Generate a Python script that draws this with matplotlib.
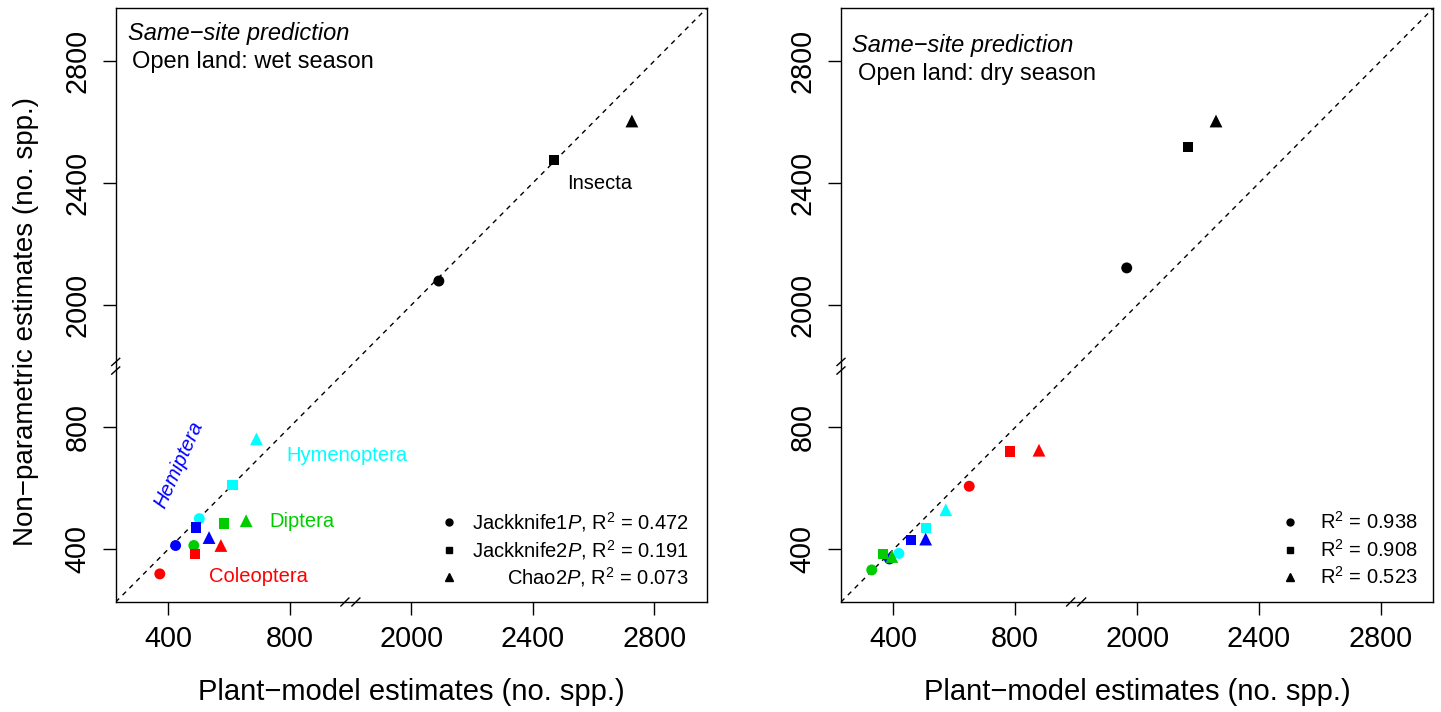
import numpy as np
import matplotlib
matplotlib.use("Agg")
import matplotlib.pyplot as plt

plt.rcParams['font.family'] = ['Liberation Sans', 'DejaVu Sans']
plt.rcParams['mathtext.fontset'] = 'custom'
plt.rcParams['mathtext.rm'] = 'Liberation Sans'
plt.rcParams['mathtext.it'] = 'Liberation Sans:italic'

# taxa order: Coleoptera, Diptera, Hemiptera, Hymenoptera, Insecta
taxa_colors = ['#FF0000', '#00CD00', '#0000FF', '#00FFFF', '#000000']

# wet season (plant-model x, non-parametric y)
wet_jk1_x = [373, 485, 425, 503, 2091]
wet_jk1_y = [320, 413, 413, 501, 2079]
wet_jk2_x = [488, 585, 491, 612, 2470]
wet_jk2_y = [385, 485, 472, 612, 2475]
wet_chao_x = [574, 657, 535, 691, 2726]
wet_chao_y = [413, 494, 439, 762, 2603]

# dry season
dry_jk1_x = [649, 329, 387, 418, 1966]
dry_jk1_y = [607, 333, 369, 387, 2122]
dry_jk2_x = [783, 367, 457, 507, 2167]
dry_jk2_y = [721, 385, 432, 470, 2518]
dry_chao_x = [878, 395, 506, 572, 2259]
dry_chao_y = [725, 377, 434, 530, 2603]

wet_r2 = ['0.472', '0.191', '0.073']
dry_r2 = ['0.938', '0.908', '0.523']
estimators = ['Jackknife1', 'Jackknife2', 'Chao2']

tick_values = [400, 800, 2000, 2400, 2800]
lims = (228, 2172)  # in gapped coordinates

GAP_FROM, GAP_TO = 1000, 1800


def gap(v):
    # squeeze out the 1000..1800 range like plotrix gap.plot
    v = np.asarray(v, dtype=float)
    return np.where(v > GAP_FROM, v - (GAP_TO - GAP_FROM), v)


def draw_breaks(ax):
    w, h = 591.0, 593.7
    c = (gap(GAP_FROM) - lims[0]) / (lims[1] - lims[0])
    for off in (-5.5, 5.5):
        cx = c + off / w
        ax.plot([cx - 4 / w, cx + 4 / w], [-4 / h, 4 / h], color='black',
                lw=1.0, transform=ax.transAxes, clip_on=False)
    for off in (-4.3, 4.3):
        cy = c + off / h
        ax.plot([-4 / w, 4 / w], [cy - 3.6 / h, cy + 3.6 / h], color='black',
                lw=1.0, transform=ax.transAxes, clip_on=False)


def setup_axes(ax):
    ax.set_xlim(lims)
    ax.set_ylim(lims)
    ax.plot(lims, lims, ls=(0, (3.5, 3.5)), color='black', lw=1.0, zorder=1)
    ax.set_xticks(gap(tick_values))
    ax.set_xticklabels([str(t) for t in tick_values])
    ax.set_yticks(gap(tick_values))
    ax.set_yticklabels([str(t) for t in tick_values], rotation=90, va='center')
    ax.tick_params(axis='both', length=9.4, width=1.0, labelsize=20.7)
    ax.tick_params(axis='x', pad=7)
    ax.tick_params(axis='y', pad=8)
    for sp in ax.spines.values():
        sp.set_linewidth(1.0)
    draw_breaks(ax)


def draw_points(ax, jk1x, jk1y, jk2x, jk2y, chx, chy):
    ax.scatter(gap(jk1x), gap(jk1y), c=taxa_colors, marker='o', s=62,
               linewidths=0, zorder=3)
    ax.scatter(gap(jk2x), gap(jk2y), c=taxa_colors, marker='s', s=55,
               linewidths=0, zorder=3)
    ax.scatter(gap(chx), gap(chy), c=taxa_colors, marker='^', s=85,
               linewidths=0, zorder=3)


fig = plt.figure(figsize=(14.41, 7.12), dpi=100)
ax1 = fig.add_axes([0.0803, 0.1545, 0.4101, 0.8338])
ax2 = fig.add_axes([0.5836, 0.1545, 0.4110, 0.8338])

# left panel: wet season
setup_axes(ax1)
draw_points(ax1, wet_jk1_x, wet_jk1_y, wet_jk2_x, wet_jk2_y,
            wet_chao_x, wet_chao_y)
ax1.text(0.021, 0.958, 'Same\u2212site prediction', style='italic',
         fontsize=17, transform=ax1.transAxes, va='center', ha='left')
ax1.text(0.028, 0.910, 'Open land: wet season', fontsize=17,
         transform=ax1.transAxes, va='center', ha='left')
ax1.text(gap(2620), gap(2400), 'Insecta', fontsize=14.5, ha='center', va='center')
ax1.text(989, 709, 'Hymenoptera', color='#00FFFF', fontsize=14.5,
         ha='center', va='center')
ax1.text(841, 490, 'Diptera', color='#00CD00', fontsize=14.5,
         ha='center', va='center')
ax1.text(696, 313, 'Coleoptera', color='#FF0000', fontsize=14.5,
         ha='center', va='center')
ax1.text(436, 677, 'Hemiptera', color='#0000FF', fontsize=14.5, style='italic',
         ha='center', va='center', rotation=65.7, rotation_mode='anchor')

rows = [0.1347, 0.0876, 0.042]
marks = ['o', 's', '^']
msz = [5, 5, 6]
for i in range(3):
    ax1.plot([0.564], [rows[i]], marker=marks[i], color='black', ms=msz[i],
             ls='none', transform=ax1.transAxes)
    ax1.text(0.970, rows[i], estimators[i] + '$\\mathit{P}$, R$^2$ = ' + wet_r2[i],
             fontsize=14.5, ha='right', va='center', transform=ax1.transAxes)
    ax2.plot([0.758], [rows[i]], marker=marks[i], color='black', ms=msz[i],
             ls='none', transform=ax2.transAxes)
    ax2.text(0.809, rows[i], 'R$^2$ = ' + dry_r2[i],
             fontsize=14.5, ha='left', va='center', transform=ax2.transAxes)

ax1.set_xlabel('Plant\u2212model estimates (no. spp.)', fontsize=21)
ax1.xaxis.set_label_coords(0.5, -0.128)
ax1.set_ylabel('Non\u2212parametric estimates (no. spp.)', fontsize=20)
ax1.yaxis.set_label_coords(-0.129, 0.473)

# right panel: dry season
setup_axes(ax2)
draw_points(ax2, dry_jk1_x, dry_jk1_y, dry_jk2_x, dry_jk2_y,
            dry_chao_x, dry_chao_y)
ax2.text(0.0186, 0.938, 'Same\u2212site prediction', style='italic',
         fontsize=17, transform=ax2.transAxes, va='center', ha='left')
ax2.text(0.029, 0.889, 'Open land: dry season', fontsize=17,
         transform=ax2.transAxes, va='center', ha='left')
ax2.set_xlabel('Plant\u2212model estimates (no. spp.)', fontsize=21)
ax2.xaxis.set_label_coords(0.5, -0.128)

fig.savefig('out.png', dpi=100)
